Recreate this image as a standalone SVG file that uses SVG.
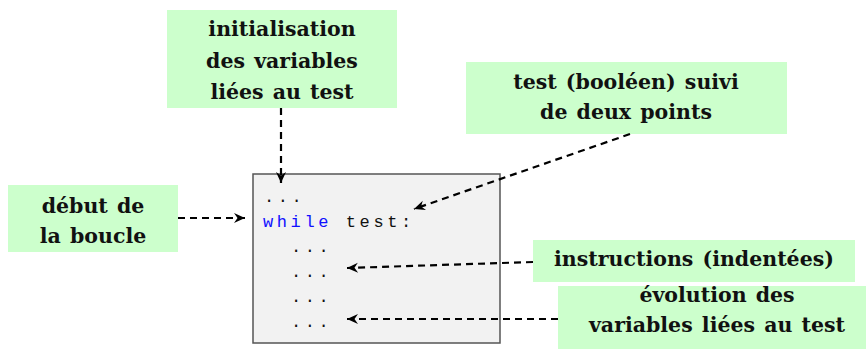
<svg xmlns="http://www.w3.org/2000/svg" width="866" height="349" viewBox="0 0 866 349">
  <style>
    .note { fill: #ccffcc; stroke: none; }
    .lbl { font-family: "DejaVu Serif", "Liberation Serif", serif; font-weight: bold; font-size: 20.5px; fill: #111; text-anchor: middle; word-spacing: 2px; }
    .code { font-family: "Liberation Mono", "DejaVu Sans Mono", monospace; font-size: 17px; letter-spacing: 3.6px; fill: #111; }
    .kw { fill: #1010ff; }
    .link { fill: none; stroke: #000; stroke-width: 2.2; stroke-dasharray: 7 5; marker-end: url(#tip); }
  </style>
  <defs>
    <marker id="tip" markerUnits="userSpaceOnUse" viewBox="-12 -6 14 12" refX="0" refY="0" markerWidth="14" markerHeight="12" orient="auto">
      <path d="M0,0 L-11,-5 L-7.5,0 L-11,5 Z" fill="#000"/>
    </marker>
  </defs>

  <!-- code listing -->
  <g id="code">
    <rect x="253" y="174" width="247" height="169" fill="#f2f2f2" stroke="#555" stroke-width="1.5"/>
    <text class="code" x="264" y="202">...</text>
    <text class="code" x="263" y="227"><tspan class="kw">while</tspan> test:</text>
    <text class="code" x="291" y="252">...</text>
    <text class="code" x="291" y="277">...</text>
    <text class="code" x="291" y="302">...</text>
    <text class="code" x="291" y="327">...</text>
  </g>

  <g id="init">
    <rect class="note" x="167" y="10" width="230" height="98"/>
    <text class="lbl" x="282" y="36">initialisation</text>
    <text class="lbl" x="282" y="68">des variables</text>
    <text class="lbl" x="282" y="99">liées au test</text>
  </g>

  <g id="test">
    <rect class="note" x="466" y="62" width="321" height="72"/>
    <text class="lbl" x="626" y="89">test (booléen) suivi</text>
    <text class="lbl" x="626" y="119">de deux points</text>
  </g>

  <g id="debut">
    <rect class="note" x="8" y="185" width="170" height="67"/>
    <text class="lbl" x="93" y="213">début de</text>
    <text class="lbl" x="93" y="243">la boucle</text>
  </g>

  <g id="instructions">
    <rect class="note" x="533" y="240" width="322" height="42"/>
    <text class="lbl" x="694" y="266">instructions (indentées)</text>
  </g>

  <g id="evolution">
    <rect class="note" x="558" y="286" width="320" height="70"/>
    <text class="lbl" x="717" y="302">évolution des</text>
    <text class="lbl" x="717" y="332">variables liées au test</text>
  </g>

  <g id="connectors">
    <path class="link" d="M281,108 L281,183"/>
    <path class="link" d="M178,218 L245,218"/>
    <path class="link" d="M630,134 L414,209"/>
    <path class="link" d="M533,262 L347,268"/>
    <path class="link" d="M558,319 L347,319"/>
  </g>
</svg>
